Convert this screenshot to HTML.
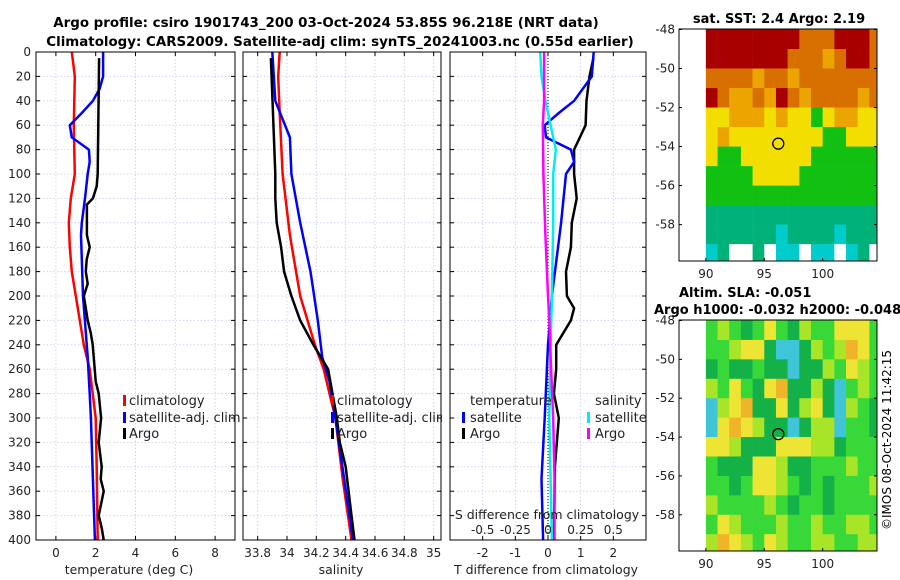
<!DOCTYPE html>
<html><head><meta charset="utf-8"><style>
body{margin:0;background:#fff}
svg{display:block;font-family:"DejaVu Sans","Liberation Sans",sans-serif}
</style></head><body>
<svg id="c" width="900" height="580" xmlns="http://www.w3.org/2000/svg">
<text x="326" y="27" font-size="13.4" font-weight="bold" text-anchor="middle">Argo profile: csiro 1901743_200 03-Oct-2024 53.85S 96.218E (NRT data)</text>
<text x="340" y="46" font-size="13.4" font-weight="bold" text-anchor="middle">Climatology: CARS2009. Satellite-adj clim: synTS_20241003.nc (0.55d earlier)</text>
<text x="779" y="23" font-size="13" font-weight="bold" text-anchor="middle">sat. SST: 2.4 Argo: 2.19</text>
<text x="679" y="297" font-size="13" font-weight="bold">Altim. SLA: -0.051</text>
<text x="654" y="314" font-size="13" font-weight="bold">Argo h1000: -0.032 h2000: -0.048</text>
<text transform="translate(891,440) rotate(-90)" font-size="12" text-anchor="middle">©IMOS 08-Oct-2024 11:42:15</text>
<g id="g"></g>
</svg>
<script>
// ---- profile data ----
const climDepth=[0,20,60,100,120,140,160,180,200,220,240,260,280,300,340,400];
const climT=[0.8,0.95,0.9,0.95,0.75,0.65,0.7,0.8,1.0,1.2,1.4,1.7,1.85,2.0,2.05,2.1];
const satDepth=[0,20,30,40,50,60,70,80,90,100,120,140,150,200,250,280,300,350,400];
const satT=[2.37,2.37,2.2,1.86,1.3,0.7,0.8,1.66,1.7,1.6,1.46,1.3,1.26,1.36,1.6,1.7,1.76,1.86,1.96];
const argoDepth=[5,100,110,120,125,150,160,170,180,190,200,210,220,230,240,260,270,280,300,320,340,350,360,380,390,400];
const argoT=[2.17,2.1,2.05,1.86,1.56,1.56,1.7,1.55,1.5,1.6,1.4,1.5,1.6,1.75,1.85,1.95,2.0,2.15,2.27,2.15,2.3,2.25,2.4,2.15,2.3,2.4];
const climSDepth=[0,20,50,100,150,200,240,260,280,300,350,400];
const climS=[33.95,33.94,33.95,33.97,34.02,34.09,34.19,34.25,34.29,34.33,34.38,34.44];
const satSDepth=[0,40,70,100,140,180,220,250,270,300,350,400];
const satS=[33.9,33.92,34.02,34.03,34.09,34.16,34.21,34.24,34.29,34.33,34.39,34.45];
const argoSDepth=[5,100,120,140,160,180,200,220,240,260,280,300,320,340,360,380,400];
const argoS=[33.89,33.92,33.92,33.93,33.96,33.98,34.03,34.09,34.18,34.28,34.31,34.34,34.36,34.4,34.42,34.44,34.46];
const dTDepth=[5,20,40,60,80,100,120,140,160,180,200,210,220,240,260,280,300,340,400];
const dTArgo=[1.39,1.27,1.18,1.15,0.8,0.8,0.88,0.73,0.7,0.55,0.58,0.8,0.7,0.25,0.25,0.18,0.33,0.21,0.18];
const dTSatDepth=[0,20,40,50,60,70,80,90,100,140,200,240,300,350,400];
const dTSat=[1.4,1.34,0.8,0.33,-0.1,-0.06,0.7,0.8,0.55,0.4,0.12,0,-0.1,-0.2,-0.15];
const dSDepth=[0,20,40,60,80,100,140,200,240,300,400];
const dSSat=[-0.06,-0.05,-0.02,0.02,0.06,0.04,0.04,0.03,0.02,0.01,0.03];
const dSArgoDepth=[0,40,60,100,150,200,220,250,300,350,400];
const dSArgo=[-0.03,-0.03,-0.04,-0.035,-0.02,0,0.01,0.02,0.04,0.05,0.05];
const depthTicks=[0,20,40,60,80,100,120,140,160,180,200,220,240,260,280,300,320,340,360,380,400];
const tTicks=[0,2,4,6,8];
const sTicks=[33.8,34,34.2,34.4,34.6,34.8,35];
const dTTicks=[-2,-1,0,1,2];
const dSTicks=[-0.5,-0.25,0,0.25,0.5];
const dSTickLabels=["-0.5","-0.25","0","0.25","0.5"];
// ---- map data ----
const sstRows=["RRRRRRRROOORRRO","RRRRRRROOOAORRO","OOOOAOOAOOOOOOO","ROAAOAROAOOOOAO","YYAAAYAYYGYAAYY","YAYYYYYYYYGGYYY","YGGYYYYYYGGGGGG","GGGGYYYYGGGGGGG","GGGGGGGGGGGGGGG","TTTTTTTTTTTTTTT","TTTTTTCTTTTCTTT","CTWWTWCCWCCWCTW"];
const sstColors={R:"#a80000",O:"#d87000",A:"#eca400",Y:"#f2de00",G:"#12c012",T:"#00b27a",C:"#00cccc",W:"#ffffff"};
const slaRows=["GLGDGYGDLGGYYYG","GGLYYDCCDLGLOYG","DGDDGDDCDDLGYLG","LGYGDYODDLDCGLG","CLYODDYDLYDCLGD","CYOYLDDCDLLCGGD","YYLDDDYYYLLDGGG","GDDDYYLDDGGGLGG","GGDGYYLGDGDGGGL","LGGGGLGDGGDGGGG","GYLGGGLGGLGGLLG","LOYLGYLGGLLGGLL"];
const slaColors={G:"#38d838",D:"#14b048",L:"#a8e428",Y:"#eee434",O:"#f0b428",C:"#40c4d8"};
const lonTicks=[90,95,100];
const latTicks=[-48,-50,-52,-54,-56,-58];
const floatLon=96.2, floatLat=-53.85;

const NS="http://www.w3.org/2000/svg";
const G=document.getElementById('g');
function mk(t,a,p){const e=document.createElementNS(NS,t);for(const k in a)e.setAttribute(k,a[k]);(p||G).appendChild(e);return e;}
const Y0=52,Y1=540;
const yD=d=>Y0+d*(Y1-Y0)/400;
function lin(d0,d1,p0,p1){return v=>p0+(v-d0)*(p1-p0)/(d1-d0);}
const xT=lin(-1,9,36,235), xS=lin(33.7,35.05,243,441), xD=lin(-3,3,450,646), xDS=v=>xD(v*4);

function panel(x0,x1,xticks,xs,labels,showY,name){
  mk('rect',{x:x0,y:Y0,width:x1-x0,height:Y1-Y0,fill:'#fff'});
  depthTicks.forEach(d=>{
    const l=mk('line',{x1:x0,x2:x1,y1:yD(d),y2:yD(d),stroke:'#d0d6f0','stroke-dasharray':'1.5,2','stroke-width':1});
    
    
    mk('line',{x1:x0,x2:x0+4,y1:yD(d),y2:yD(d),stroke:'#000'});
    mk('line',{x1:x1-4,x2:x1,y1:yD(d),y2:yD(d),stroke:'#000'});
    if(showY){const t=mk('text',{x:x0-5,y:yD(d)+4,'font-size':12,'text-anchor':'end',fill:'#222'});t.textContent=d;
      
      }
  });
  xticks.forEach((v,i)=>{
    const X=xs(v);
    const l=mk('line',{x1:X,x2:X,y1:Y0,y2:Y1,stroke:'#d0d6f0','stroke-dasharray':'1.5,2'});
    
    
    mk('line',{x1:X,x2:X,y1:Y1,y2:Y1-4,stroke:'#000'});
    mk('line',{x1:X,x2:X,y1:Y0,y2:Y0+4,stroke:'#000'});
    const t=mk('text',{x:X,y:557,'font-size':12,'text-anchor':'middle',fill:'#222'});t.textContent=labels?labels[i]:v;
    
    
  });
}
function border(x0,x1,name){const r=mk('rect',{x:x0,y:Y0,width:x1-x0,height:Y1-Y0,fill:'none',stroke:'#000'});
  
  }
function line(ds,vs,xs,col,name,w){
  const pts=ds.map((d,i)=>xs(vs[i]).toFixed(1)+','+yD(d).toFixed(1)).join(' ');
  const p=mk('polyline',{points:pts,fill:'none',stroke:col,'stroke-width':w||2.5,'stroke-linejoin':'round'});
  
  
}
function txt(x,y,s,name,opt){const t=mk('text',Object.assign({x:x,y:y,'font-size':13,fill:'#222'},opt||{}));t.textContent=s;
  
  return t;}
function sw(x,y,col,name){const r=mk('rect',{x:x,y:y-10,width:3,height:11,fill:col});
  
  }

// panel 1
panel(36,235,tTicks,xT,null,true,'temperature-panel');
line(climDepth,climT,xT,'#f00','climatology-temperature-line');
line(satDepth,satT,xT,'#00f','satellite-temperature-line');
line(argoDepth,argoT,xT,'#000','argo-temperature-line');
border(36,235,'temperature-panel-frame');
txt(129,574,'temperature (deg C)','temperature-x-axis-title',{'text-anchor':'middle','font-size':12.5});
sw(123,405,'#f00','legend-swatch-climatology');txt(129,405,'climatology','legend-entry-climatology');
sw(123,422,'#00f','legend-swatch-satellite');txt(129,422,'satellite-adj. clim','legend-entry-satellite-adj');
sw(123,438,'#000','legend-swatch-argo');txt(129,438,'Argo','legend-entry-argo');

// panel 2
panel(243,441,sTicks,xS,null,false,'salinity-panel');
line(climSDepth,climS,xS,'#f00','climatology-salinity-line');
line(satSDepth,satS,xS,'#00f','satellite-salinity-line');
line(argoSDepth,argoS,xS,'#000','argo-salinity-line');
border(243,441,'salinity-panel-frame');
txt(341,574,'salinity','salinity-x-axis-title',{'text-anchor':'middle','font-size':12.5});
sw(331,405,'#f00','legend-swatch-climatology-2');txt(337,405,'climatology','legend-entry-climatology-2');
sw(331,422,'#00f','legend-swatch-satellite-2');txt(337,422,'satellite-adj. clim','legend-entry-satellite-adj-2');
sw(331,438,'#000','legend-swatch-argo-2');txt(337,438,'Argo','legend-entry-argo-2');
mk('rect',{x:442,y:410,width:6,height:16,fill:'#fff'});

// panel 3
panel(450,646,dTTicks,xD,null,false,'difference-panel');
mk('line',{x1:xD(0),x2:xD(0),y1:Y0,y2:Y1,stroke:'#000','stroke-dasharray':'1,2'});
line(dTDepth,dTArgo,xD,'#000','argo-temperature-diff-line');
line(dTSatDepth,dTSat,xD,'#00f','satellite-temperature-diff-line');
line(dSDepth,dSSat,xDS,'#0ee','satellite-salinity-diff-line');
line(dSArgoDepth,dSArgo,xDS,'#f0f','argo-salinity-diff-line');
border(450,646,'difference-panel-frame');
txt(546,574,'T difference from climatology','t-diff-axis-title',{'text-anchor':'middle','font-size':12.5});
txt(547,519,'S difference from climatology','s-diff-axis-title',{'text-anchor':'middle','font-size':12.5});
dSTicks.forEach((v,i)=>{txt(xDS(v),534,dSTickLabels[i],'s-diff-tick-label',{'text-anchor':'middle','font-size':12});});
txt(470,405,'temperature','legend-title-temperature');
sw(462,422,'#00f','legend-swatch-t-satellite');txt(470,422,'satellite','legend-entry-t-satellite');
sw(462,438,'#000','legend-swatch-t-argo');txt(470,438,'Argo','legend-entry-t-argo');
txt(595,405,'salinity','legend-title-salinity');
sw(587,422,'#0ee','legend-swatch-s-satellite');txt(595,422,'satellite','legend-entry-s-satellite');
sw(587,438,'#f0f','legend-swatch-s-argo');txt(595,438,'Argo','legend-entry-s-argo');

// maps
function map(top,bot,rows,cols,name){
  const x0=679,x1=877;
  const xL=lin(87.7,104.65,x0,x1), yL=lin(-48,-58,top+0.5,top+(bot-top)*(10/11.86));
  mk('rect',{x:x0,y:top,width:x1-x0,height:bot-top,fill:'#fff'});
  rows.forEach((r,ri)=>{for(let ci=0;ci<15;ci++){
    const lon=90+ci, lat=-48-ri;
    const xa=xL(lon), xb=Math.min(xL(lon+1),x1), ya=yL(lat), yb=Math.min(yL(lat-1),bot);
    const c=mk('rect',{x:xa,y:ya,width:xb-xa+0.3,height:yb-ya+0.3,fill:cols[r[ci]]||cols.G});
    
    
  }});
  const f=mk('rect',{x:x0,y:top,width:x1-x0,height:bot-top,fill:'none',stroke:'#000'});
  
  
  lonTicks.forEach(v=>{mk('line',{x1:xL(v),x2:xL(v),y1:bot,y2:bot-3,stroke:'#000'});txt(xL(v),bot+17,v,name+'-lon-tick-label',{'text-anchor':'middle','font-size':12});});
  latTicks.forEach(v=>{mk('line',{x1:x0,x2:x0+3,y1:yL(v),y2:yL(v),stroke:'#000'});mk('line',{x1:x1,x2:x1-3,y1:yL(v),y2:yL(v),stroke:'#000'});txt(x0-4,yL(v)+4,v,name+'-lat-tick-label',{'text-anchor':'end','font-size':12});});
  const m=mk('circle',{cx:xL(floatLon),cy:yL(floatLat),r:5.5,fill:'none',stroke:'#000','stroke-width':1.3});
  
  
}
map(29,261,sstRows,sstColors,'sst-map');
map(320,551,slaRows,slaColors,'sla-map');
</script>
</body></html>
